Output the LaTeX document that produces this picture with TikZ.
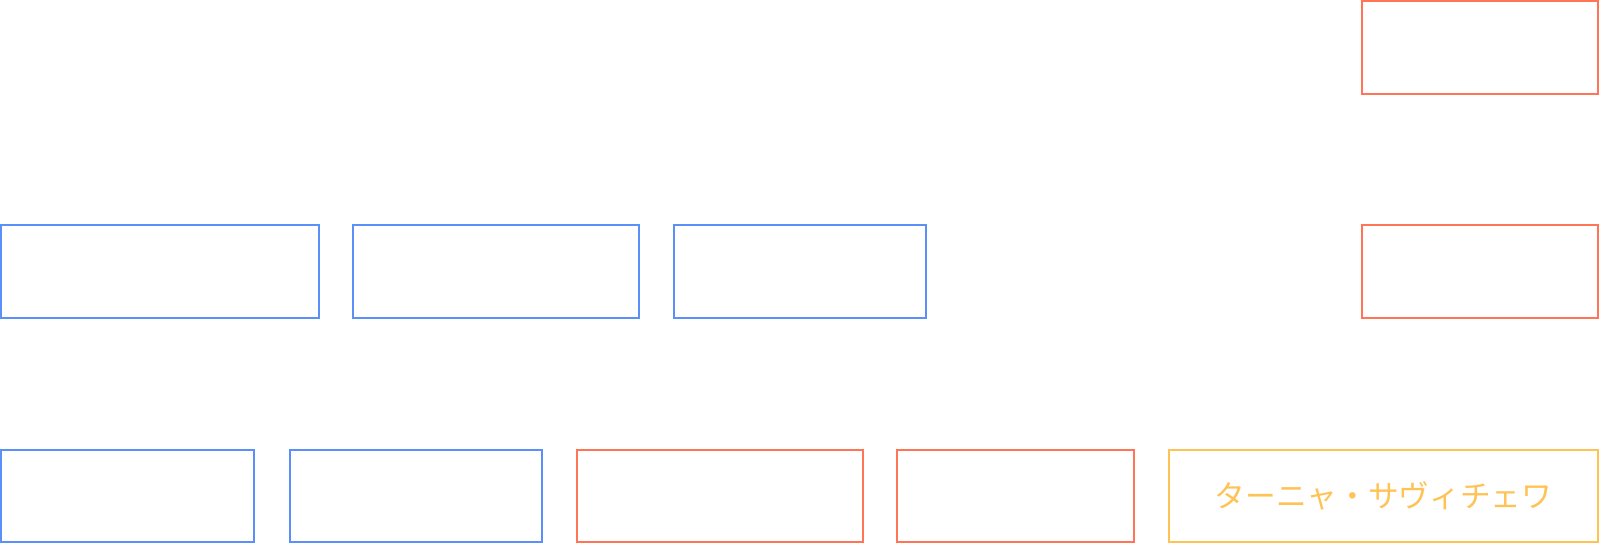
\documentclass[tikz,border=0pt]{standalone}
\usepackage{fontspec}
\newfontfamily\cjk{Noto Sans CJK JP}
\definecolor{cblue}{HTML}{5B8FF9}
\definecolor{cred}{HTML}{FF7557}
\definecolor{cgold}{HTML}{FFC355}
\begin{document}
\begin{tikzpicture}[x=1pt,y=-1pt,
  box/.style={draw, line width=2pt, rectangle, inner sep=0pt, outer sep=0pt, fill=white},
  bluebox/.style={box, draw=cblue},
  redbox/.style={box, draw=cred},
  goldbox/.style={box, draw=cgold, text=cgold, font=\cjk\fontsize{30.7}{30.7}\selectfont}]
\useasboundingbox (0,0) rectangle (1600,544);
\node[redbox, minimum width=236pt, minimum height=93pt] (t1) at (1480,47.5) {};
\node[bluebox, minimum width=318pt, minimum height=93pt] (m1) at (160,271.5) {};
\node[bluebox, minimum width=286pt, minimum height=93pt] (m2) at (496,271.5) {};
\node[bluebox, minimum width=252pt, minimum height=93pt] (m3) at (800,271.5) {};
\node[redbox, minimum width=236pt, minimum height=93pt] (m4) at (1480,271.5) {};
\node[bluebox, minimum width=253pt, minimum height=92pt] (b1) at (127.5,496) {};
\node[bluebox, minimum width=252pt, minimum height=92pt] (b2) at (416,496) {};
\node[redbox, minimum width=286pt, minimum height=92pt] (b3) at (720,496) {};
\node[redbox, minimum width=237pt, minimum height=92pt] (b4) at (1015.5,496) {};
\node[goldbox, minimum width=429pt, minimum height=92pt] (b5) at (1383.5,496) {ターニャ・サヴィチェワ};
\end{tikzpicture}
\end{document}
